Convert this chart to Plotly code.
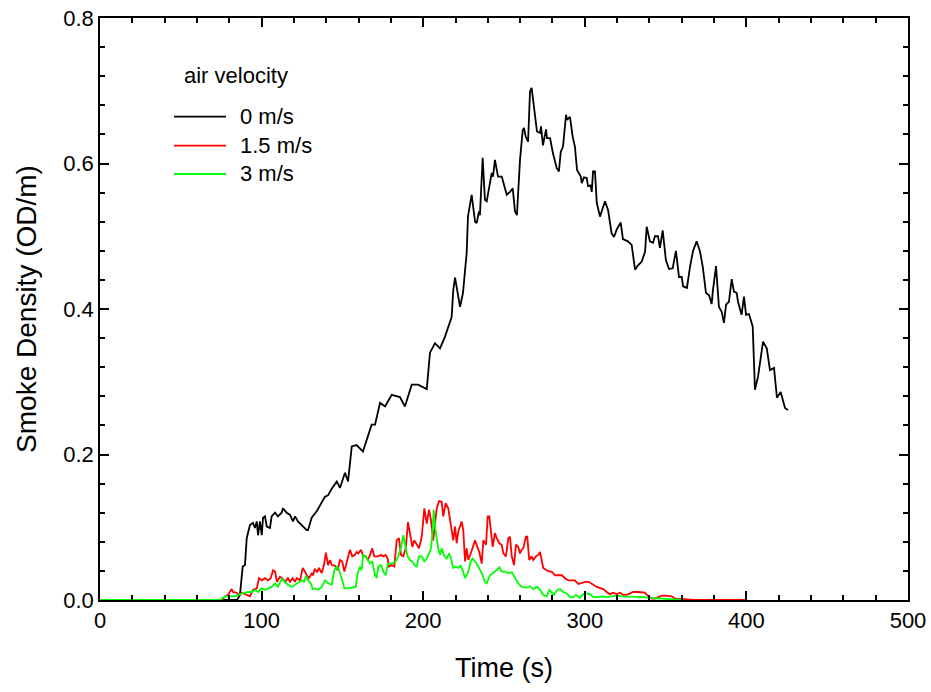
import plotly.graph_objects as go

# ---- data (time in s, smoke density in OD/m) ----
t_0 = [0, 84.8, 86.6, 88.3, 89.7, 90.8, 92.8, 94.7, 95.9, 97.0, 97.8, 99.0, 100.1, 100.9, 102.1, 103.2,
       105.2, 106.2, 108.3, 110.1, 112.4, 113.2, 115.5, 117.6, 119.4, 120.7, 122.5, 127.9, 128.7, 131.0,
       134.1, 137.2, 139.2, 141.1, 143.4, 146.5, 148.5, 151.6, 153.5, 155.8, 158.8, 162.7, 168.1, 170.2,
       173.3, 176.4, 180.5, 185.6, 188.7, 192.9, 196.8, 202.2, 204.2, 207.3, 210.4, 213.5, 215.3, 217.6,
       218.6, 219.7, 222.8, 224.6, 226.9, 227.7, 230.0, 232.1, 233.1, 234.5, 235.1, 236.8, 238.2, 239.3,
       242.4, 243.2, 244.4, 246.3, 248.6, 251.7, 253.7, 255.4, 256.8, 258.0, 259.9, 261.6, 262.4, 263.4,
       264.9, 266.1, 267.1, 269.2, 270.4, 272.3, 272.9, 274.1, 276.0, 276.6, 278.5, 280.3, 282.6, 284.0,
       285.1, 286.5, 288.4, 289.0, 290.8, 292.5, 293.9, 295.2, 297.5, 298.1, 299.5, 301.2, 302.0, 303.6,
       304.3, 305.1, 306.3, 307.4, 309.4, 312.5, 314.4, 316.6, 318.1, 319.7, 322.2, 323.6, 326.7, 329.0,
       331.1, 332.9, 335.2, 337.3, 338.3, 340.3, 342.2, 343.4, 345.3, 346.5, 348.2, 350.2, 352.1, 354.4,
       356.4, 358.3, 360.0, 360.8, 363.2, 365.1, 367.0, 369.2, 371.3, 373.0, 375.0, 376.9, 378.5, 379.3,
       381.2, 383.0, 384.7, 386.1, 387.4, 389.2, 390.9, 392.3, 394.0, 394.8, 397.0, 398.5, 399.8, 401.6,
       403.9, 405.3, 407.2, 410.3, 412.6, 414.6, 417.1, 418.9, 421.2, 423.9, 425.8]
d_0 = [0, 0, 0.007, 0.046, 0.048, 0.085, 0.103, 0.106, 0.099, 0.108, 0.089, 0.108, 0.089, 0.113, 0.115, 0.101,
       0.099, 0.115, 0.120, 0.115, 0.120, 0.126, 0.120, 0.117, 0.108, 0.115, 0.108, 0.096, 0.096, 0.113,
       0.122, 0.133, 0.142, 0.144, 0.153, 0.163, 0.154, 0.175, 0.163, 0.211, 0.213, 0.204, 0.241, 0.241,
       0.271, 0.266, 0.282, 0.279, 0.266, 0.296, 0.296, 0.290, 0.340, 0.353, 0.346, 0.362, 0.374, 0.389,
       0.426, 0.443, 0.403, 0.422, 0.477, 0.527, 0.557, 0.520, 0.518, 0.534, 0.529, 0.608, 0.550, 0.548,
       0.587, 0.582, 0.605, 0.582, 0.582, 0.557, 0.561, 0.566, 0.534, 0.529, 0.605, 0.646, 0.649, 0.637,
       0.630, 0.699, 0.704, 0.667, 0.644, 0.642, 0.651, 0.625, 0.647, 0.635, 0.635, 0.614, 0.594, 0.589,
       0.616, 0.623, 0.667, 0.660, 0.664, 0.637, 0.623, 0.591, 0.582, 0.573, 0.581, 0.580, 0.569, 0.570,
       0.561, 0.589, 0.589, 0.546, 0.527, 0.548, 0.536, 0.504, 0.499, 0.509, 0.519, 0.496, 0.493, 0.488,
       0.454, 0.460, 0.465, 0.479, 0.513, 0.493, 0.491, 0.500, 0.500, 0.484, 0.508, 0.467, 0.455, 0.456,
       0.480, 0.444, 0.444, 0.431, 0.429, 0.458, 0.480, 0.493, 0.479, 0.458, 0.422, 0.419, 0.407, 0.426,
       0.459, 0.403, 0.396, 0.381, 0.406, 0.410, 0.441, 0.424, 0.422, 0.410, 0.392, 0.417, 0.392, 0.393,
       0.376, 0.289, 0.307, 0.355, 0.346, 0.316, 0.319, 0.278, 0.286, 0.264, 0.261]

t_15 = [0, 75.3, 77.4, 79.2, 81.5, 82.3, 84.6, 86.0, 87.7, 90.8, 92.8, 94.7, 97.0, 98.4, 100.1, 102.1, 104.0,
        105.6, 107.1, 108.3, 109.5, 111.4, 113.1, 114.5, 116.3, 117.6, 119.2, 120.7, 121.7, 123.8, 125.4,
        126.9, 127.9, 129.3, 131.0, 131.8, 133.0, 134.3, 135.5, 137.2, 138.6, 139.8, 141.1, 142.3, 143.4,
        145.4, 147.1, 148.5, 149.9, 151.2, 152.7, 154.7, 156.1, 157.8, 158.8, 159.8, 161.5, 162.9, 164.4,
        165.7, 167.1, 168.5, 169.7, 172.2, 173.9, 175.3, 176.8, 178.0, 178.8, 180.5, 182.1, 183.6, 185.0,
        186.3, 187.7, 189.2, 190.6, 191.8, 193.3, 194.5, 196.0, 197.4, 199.1, 200.7, 202.2, 203.6, 204.8,
        206.2, 207.3, 208.4, 209.8, 211.4, 212.4, 213.9, 215.5, 217.2, 218.6, 219.7, 220.7, 221.7, 223.8,
        224.8, 225.9, 226.9, 227.9, 229.4, 230.6, 232.1, 233.5, 234.7, 236.2, 237.2, 238.9, 239.9, 240.9,
        241.8, 243.0, 244.4, 245.5, 247.1, 248.6, 249.6, 251.2, 252.7, 253.7, 254.8, 256.2, 257.4, 258.8,
        259.9, 260.9, 261.9, 263.6, 264.4, 265.6, 267.1, 268.1, 269.8, 271.2, 272.3, 273.3, 274.3, 276.4,
        278.0, 279.5, 281.6, 283.6, 285.7, 287.7, 289.8, 291.9, 293.9, 296.0, 298.1, 300.1, 302.2, 303.2,
        305.3, 307.4, 309.4, 311.4, 313.5, 315.6, 317.6, 319.7, 321.8, 323.8, 325.9, 328.0, 330.0, 333.1,
        335.2, 337.2, 339.3, 341.4, 343.4, 345.5, 347.6, 349.6, 351.7, 353.8, 355.8, 358.9, 362.0, 367.1,
        377.4, 400.4]
d_15 = [0, 0, 0.005, 0.007, 0.015, 0.011, 0.010, 0.007, 0.010, 0.007, 0.005, 0.014, 0.016, 0.030, 0.027, 0.030,
        0.027, 0.030, 0.041, 0.039, 0.025, 0.032, 0.029, 0.025, 0.030, 0.025, 0.030, 0.025, 0.030, 0.027,
        0.044, 0.039, 0.034, 0.030, 0.037, 0.034, 0.043, 0.038, 0.044, 0.037, 0.048, 0.065, 0.048, 0.055,
        0.048, 0.047, 0.041, 0.055, 0.053, 0.039, 0.053, 0.069, 0.060, 0.062, 0.066, 0.064, 0.069, 0.060,
        0.060, 0.055, 0.062, 0.071, 0.060, 0.060, 0.062, 0.060, 0.062, 0.057, 0.046, 0.048, 0.046, 0.082,
        0.085, 0.062, 0.060, 0.071, 0.107, 0.089, 0.073, 0.082, 0.076, 0.071, 0.087, 0.126, 0.105, 0.124,
        0.110, 0.082, 0.105, 0.126, 0.136, 0.135, 0.115, 0.133, 0.126, 0.101, 0.082, 0.101, 0.078, 0.094,
        0.108, 0.096, 0.053, 0.071, 0.055, 0.064, 0.071, 0.082, 0.073, 0.066, 0.050, 0.082, 0.076, 0.115,
        0.115, 0.099, 0.073, 0.092, 0.085, 0.078, 0.076, 0.064, 0.060, 0.085, 0.087, 0.060, 0.048, 0.076,
        0.073, 0.064, 0.069, 0.071, 0.087, 0.087, 0.055, 0.060, 0.055, 0.060, 0.062, 0.066, 0.053, 0.044,
        0.041, 0.039, 0.039, 0.034, 0.034, 0.034, 0.030, 0.027, 0.027, 0.027, 0.022, 0.024, 0.025, 0.025,
        0.024, 0.021, 0.018, 0.017, 0.015, 0.011, 0.008, 0.010, 0.008, 0.010, 0.007, 0.007, 0.009, 0.011,
        0.011, 0.011, 0.010, 0.005, 0.002, 0.002, 0.004, 0.006, 0.006, 0.005, 0.005, 0.002, 0.001, 0.001,
        0.0, 0.0, 0.0]

t_3 = [0, 74.3, 77.4, 80.4, 83.5, 86.6, 89.7, 91.6, 93.9, 95.9, 97.8, 100.1, 102.1, 104.0, 106.2, 108.3,
       110.1, 112.4, 114.5, 116.3, 118.6, 120.7, 122.5, 124.8, 126.2, 127.5, 128.7, 130.4, 131.6, 133.0,
       134.9, 137.2, 139.2, 141.3, 143.4, 145.0, 146.5, 147.9, 149.6, 151.2, 153.6, 156.7, 158.2, 159.5,
       160.9, 161.9, 162.9, 164.4, 166.0, 167.1, 168.5, 170.2, 171.2, 172.2, 173.9, 175.3, 176.8, 178.0,
       179.5, 181.5, 183.0, 184.6, 186.3, 187.7, 189.2, 190.4, 191.8, 193.3, 194.5, 196.0, 197.4, 199.1,
       200.7, 202.2, 203.6, 204.8, 205.6, 206.5, 207.3, 208.4, 209.3, 210.4, 211.4, 213.1, 214.5, 216.0,
       217.2, 218.6, 220.3, 221.7, 223.2, 224.4, 225.9, 227.9, 229.4, 230.6, 232.1, 234.1, 236.2, 238.2,
       239.3, 241.3, 243.4, 245.5, 247.1, 248.6, 250.6, 252.7, 254.8, 256.8, 258.8, 260.9, 264.0, 266.1,
       268.1, 270.6, 272.3, 274.3, 276.4, 278.0, 279.5, 280.9, 282.6, 284.6, 286.7, 288.8, 290.8, 292.9,
       294.5, 296.0, 297.0, 299.1, 301.2, 303.2, 305.3, 307.4, 309.4, 311.4, 313.5, 315.6, 319.7, 323.8,
       328.0, 332.1, 336.2, 340.3, 344.5, 348.6, 352.7, 360.9]
d_3 = [0, 0, 0.005, 0.005, 0.005, 0.008, 0.010, 0.011, 0.011, 0.014, 0.011, 0.016, 0.014, 0.016, 0.018, 0.023,
       0.018, 0.029, 0.025, 0.021, 0.018, 0.021, 0.023, 0.027, 0.025, 0.033, 0.027, 0.023, 0.015, 0.016,
       0.014, 0.018, 0.027, 0.023, 0.021, 0.041, 0.046, 0.041, 0.030, 0.016, 0.016, 0.017, 0.018, 0.037,
       0.046, 0.041, 0.062, 0.060, 0.055, 0.050, 0.053, 0.034, 0.030, 0.046, 0.048, 0.039, 0.034, 0.049,
       0.050, 0.051, 0.053, 0.060, 0.073, 0.089, 0.071, 0.060, 0.055, 0.053, 0.048, 0.046, 0.060, 0.060,
       0.053, 0.057, 0.064, 0.071, 0.087, 0.124, 0.101, 0.080, 0.071, 0.062, 0.071, 0.060, 0.057, 0.064,
       0.057, 0.044, 0.046, 0.044, 0.047, 0.041, 0.030, 0.039, 0.053, 0.057, 0.053, 0.046, 0.037, 0.025,
       0.023, 0.034, 0.037, 0.041, 0.045, 0.039, 0.039, 0.037, 0.038, 0.031, 0.023, 0.018, 0.017, 0.019,
       0.015, 0.018, 0.014, 0.007, 0.005, 0.014, 0.011, 0.007, 0.013, 0.015, 0.011, 0.009, 0.004, 0.004,
       0.007, 0.004, 0.003, 0.008, 0.009, 0.008, 0.004, 0.004, 0.005, 0.005, 0.004, 0.005, 0.006, 0.005,
       0.005, 0.005, 0.004, 0.003, 0.002, 0.001, 0.001, 0.0]

series_names = ["0 m/s", "1.5 m/s", "3 m/s"]
series_colors = ["#000000", "#ff0000", "#00ff00"]
legend_title = "air velocity"
x_ticks = [0, 100, 200, 300, 400, 500]
y_ticks = [0.0, 0.2, 0.4, 0.6, 0.8]

FONT = "Liberation Sans, Arial, sans-serif"

fig = go.Figure()
for (tt, dd), name, col in zip([(t_0, d_0), (t_15, d_15), (t_3, d_3)], series_names, series_colors):
    fig.add_trace(go.Scatter(x=tt, y=dd, mode="lines", name=name,
                             line=dict(color=col, width=1.8), showlegend=False))

# manual legend
fig.add_annotation(x=0.1011, y=0.902, xref="paper", yref="paper", text=legend_title, showarrow=False,
                   xanchor="left", yanchor="middle", font=dict(size=22, color="black", family=FONT))
leg_y = [0.8304, 0.7806, 0.732]
for name, col, yy in zip(series_names, series_colors, leg_y):
    fig.add_shape(type="line", xref="paper", yref="paper", x0=0.0916, x1=0.156, y0=yy, y1=yy,
                  line=dict(color=col, width=1.8))
    fig.add_annotation(x=0.1708, y=yy, xref="paper", yref="paper", text=name, showarrow=False,
                       xanchor="left", yanchor="middle", font=dict(size=22, color="black", family=FONT))

axis_common = dict(showgrid=False, zeroline=False, showline=True, linecolor="black", linewidth=1.5,
                   mirror="allticks", ticks="inside", tickcolor="black", tickwidth=1.5, ticklen=9,
                   tickfont=dict(size=22, color="black", family=FONT))
fig.update_xaxes(range=[0, 500], tickvals=x_ticks, ticktext=[str(v) for v in x_ticks],
                 minor=dict(dtick=20, ticks="inside", ticklen=5, tickcolor="black", tickwidth=1.5),
                 title=dict(text="Time (s)", font=dict(size=27, color="black", family=FONT), standoff=26),
                 **axis_common)
fig.update_yaxes(range=[0, 0.8], tickvals=y_ticks, ticktext=[f"{v:.1f}" for v in y_ticks],
                 minor=dict(dtick=0.04, ticks="inside", ticklen=5, tickcolor="black", tickwidth=1.5),
                 title=dict(text="Smoke Density (OD/m)", font=dict(size=28, color="black", family=FONT), standoff=18),
                 **axis_common)
fig.update_layout(width=931, height=692, plot_bgcolor="white", paper_bgcolor="white",
                  margin=dict(l=100, r=23, t=18, b=92, autoexpand=False))
fig.write_html("out.html")
